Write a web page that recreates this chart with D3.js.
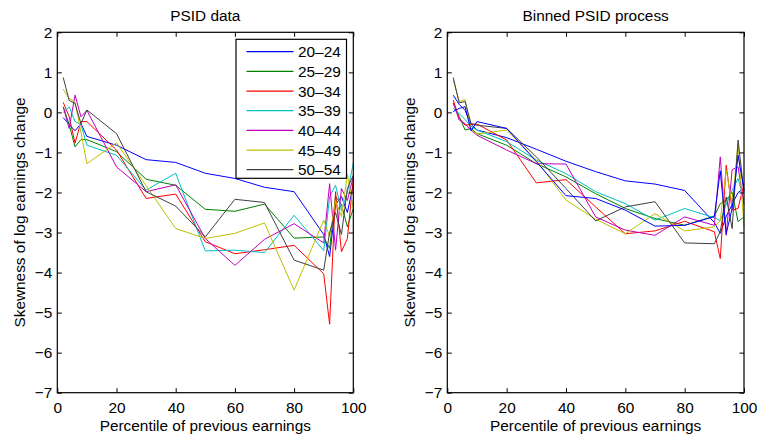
<!DOCTYPE html>
<html><head><meta charset="utf-8">
<script src="https://cdn.jsdelivr.net/npm/d3@7"></script>
<style>body{margin:0;background:#fff}text{font-family:"Liberation Sans",Arial,sans-serif;fill:#000}</style>
</head><body><svg id="c" width="757" height="439"></svg>
<script>
const percentiles = [2,4,6,8,10,20,30,40,50,60,70,80,90,92,94,96,98,100];
const ageGroups = ["20–24","25–29","30–34","35–39","40–44","45–49","50–54"];
const xTicks = [0,20,40,60,80,100];
const yTicks = [2,1,0,-1,-2,-3,-4,-5,-6,-7];
const colors = ["#0000ff","#008000","#ff0000","#00bfbf","#bf00bf","#bfbf00","#404040","#0000ff"];

// PSID data (left panel)
const psid20 = [-0.13,-0.30,-0.46,-0.28,-0.60,-0.82,-1.18,-1.25,-1.52,-1.65,-1.87,-1.98,-3.05,-3.60,-2.30,-2.10,-2.50,-1.80];
const psid25 = [0.14,-0.30,-0.86,-0.68,-0.68,-0.98,-1.67,-1.82,-2.42,-2.47,-2.29,-3.14,-3.11,-3.40,-2.10,-2.30,-2.86,-2.40];
const psid30 = [0.25,-0.10,-0.77,-0.23,-0.23,-0.94,-2.15,-2.04,-3.23,-3.53,-3.43,-3.32,-4.03,-5.29,-1.98,-3.48,-3.15,-1.65];
const psid35 = [0.00,0.14,-0.23,-0.30,-0.82,-1.07,-1.94,-1.52,-3.46,-3.44,-3.50,-2.57,-3.45,-2.10,-1.82,-2.45,-2.00,-1.27];
const psid40 = [0.14,-0.40,0.43,-0.11,0.05,-1.36,-1.98,-1.81,-3.15,-3.82,-3.17,-2.78,-3.26,-1.78,-3.44,-1.90,-2.20,-1.60];
const psid45 = [0.58,0.35,0.26,-0.50,-1.28,-0.76,-1.83,-2.90,-3.15,-3.02,-2.76,-4.44,-2.69,-3.10,-2.20,-2.60,-1.55,-2.40];
const psid50 = [0.87,0.30,0.22,-0.28,0.06,-0.53,-1.98,-2.34,-3.11,-2.17,-2.25,-3.69,-3.94,-3.00,-2.50,-3.05,-1.90,-1.57];

// Binned PSID process (right panel)
const bin20 = [0.43,0.20,0.05,-0.30,-0.44,-0.63,-0.92,-1.22,-1.48,-1.71,-1.79,-1.95,-2.75,-3.02,-2.60,-2.30,-2.00,-1.90];
const bin25 = [0.22,-0.10,-0.44,-0.40,-0.53,-0.82,-1.28,-1.61,-2.03,-2.40,-2.65,-2.82,-2.59,-2.28,-2.19,-2.00,-2.73,-2.61];
const bin30 = [0.31,-0.15,-0.32,-0.30,-0.29,-0.69,-1.76,-1.68,-2.36,-3.03,-2.96,-2.72,-2.98,-3.65,-1.32,-2.44,-2.40,-1.78];
const bin35 = [0.10,-0.03,-0.18,-0.35,-0.44,-0.73,-1.19,-1.53,-1.98,-2.28,-2.69,-2.40,-2.63,-2.70,-2.30,-1.95,-1.65,-2.20];
const bin40 = [0.24,-0.19,-0.28,-0.45,-0.57,-0.94,-1.28,-1.29,-2.61,-2.94,-3.07,-2.61,-2.82,-1.11,-3.07,-1.43,-1.36,-2.30];
const bin45 = [0.81,0.27,0.32,-0.44,-0.54,-0.44,-1.19,-2.19,-2.67,-3.03,-2.53,-2.96,-2.86,-2.70,-1.44,-2.30,-0.78,-2.86];
const bin50 = [0.87,0.24,0.27,-0.28,-0.32,-0.40,-1.11,-1.90,-2.71,-2.36,-2.23,-3.26,-3.28,-2.98,-2.11,-2.90,-0.69,-2.00];
const bin55 = [0.02,0.10,0.14,-0.46,-0.23,-0.40,-1.23,-2.08,-2.15,-2.44,-2.84,-2.82,-2.60,-1.46,-3.03,-2.40,-1.07,-1.94];

const FS = "15.4px";
const svg = d3.select("#c");
svg.append("rect").attr("width",757).attr("height",439).attr("fill","#fff");
const plotTop = 32.3, plotBottom = 392.7;

function panel(x0, x1, title, series, legend) {
  const x = d3.scaleLinear().domain([0,100]).range([x0,x1]);
  const y = d3.scaleLinear().domain([-7,2]).range([plotBottom,plotTop]);
  const g = svg.append("g");
  const line = d3.line().x((d,i)=>x(percentiles[i])).y(d=>y(d));
  series.forEach((s,k)=>{
    g.append("path").datum(s).attr("d",line).attr("fill","none")
      .attr("stroke",colors[k]).attr("stroke-width",1).attr("stroke-linejoin","miter");
  });
  const tl = 4.5;
  const fmt = d => d < 0 ? "\u2212" + Math.abs(d) : String(d);
  const ax = g.append("g").attr("transform",`translate(0,${plotBottom})`)
    .call(d3.axisBottom(x).tickValues(xTicks).tickSizeInner(-tl).tickSizeOuter(0).tickPadding(9).tickFormat(fmt));
  const axT = g.append("g").attr("transform",`translate(0,${plotTop})`)
    .call(d3.axisTop(x).tickValues(xTicks).tickSizeInner(-tl).tickSizeOuter(0).tickFormat(""));
  const ay = g.append("g").attr("transform",`translate(${x0},0)`)
    .call(d3.axisLeft(y).tickValues(yTicks).tickSizeInner(-tl).tickSizeOuter(0).tickPadding(5).tickFormat(fmt));
  const ayR = g.append("g").attr("transform",`translate(${x1},0)`)
    .call(d3.axisRight(y).tickValues(yTicks).tickSizeInner(-tl).tickSizeOuter(0).tickFormat(""));
  [ax,axT,ay,ayR].forEach(a=>{
    a.select(".domain").remove();
    a.selectAll("line").attr("stroke","#000").attr("stroke-width",1);
    a.selectAll("text").style("font-size",FS).attr("fill","#000").style("font-family","'Liberation Sans',Arial,sans-serif");
  });
  g.append("rect").attr("x",x0).attr("y",plotTop).attr("width",x1-x0).attr("height",plotBottom-plotTop)
    .attr("fill","none").attr("stroke","#000").attr("stroke-width",1.2);
  g.append("text").attr("x",(x0+x1)/2).attr("y",20.8).attr("text-anchor","middle").style("font-size",FS).text(title);
  g.append("text").attr("x",(x0+x1)/2).attr("y",430.5).attr("text-anchor","middle").style("font-size",FS).text("Percentile of previous earnings");
  g.append("text").attr("transform",`translate(${x0-38},${(plotTop+plotBottom)/2}) rotate(-90)`)
    .attr("text-anchor","middle").attr("dy","0.35em").style("font-size",FS).text("Skewness of log earnings change");
  if (legend) {
    const lx = 236, ly = 39.3, lw = 110.5, lh = 139;
    const lg = g.append("g");
    lg.append("rect").attr("x",lx).attr("y",ly).attr("width",lw).attr("height",lh)
      .attr("fill","#fff").attr("stroke","#000").attr("stroke-width",1.2);
    const ry = d3.scaleLinear().domain([0,6]).range([51.7,169.7]);
    ageGroups.forEach((a,k)=>{
      lg.append("line").attr("x1",246.5).attr("x2",293.5).attr("y1",ry(k)).attr("y2",ry(k))
        .attr("stroke",colors[k]).attr("stroke-width",1.2);
      lg.append("text").attr("x",298).attr("y",ry(k)).attr("dy","0.36em").style("font-size",FS).text(a);
    });
  }
}

panel(57.3, 353.3, "PSID data", [psid20,psid25,psid30,psid35,psid40,psid45,psid50], true);
panel(447.3, 744, "Binned PSID process", [bin20,bin25,bin30,bin35,bin40,bin45,bin50,bin55], false);
</script></body></html>
